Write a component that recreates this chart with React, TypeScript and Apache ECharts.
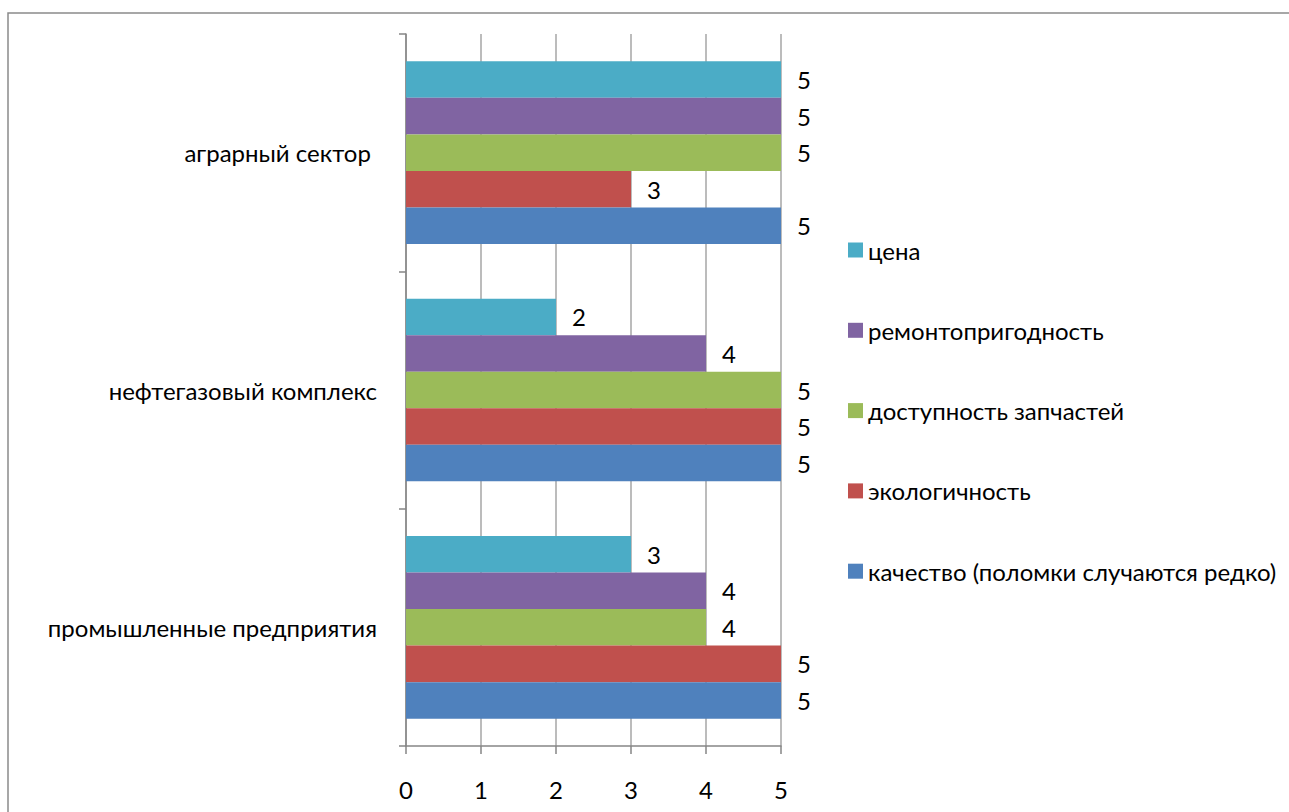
import React, { useEffect, useRef } from "react";
import * as echarts from "echarts";

const categories = ["промышленные предприятия", "нефтегазовый комплекс", "аграрный сектор "];
const seriesNames = [
  "цена",
  "ремонтопригодность",
  "доступность запчастей",
  "экологичность",
  "качество (поломки случаются редко)",
];
const price = [3, 2, 5];
const repair = [4, 4, 5];
const parts = [4, 5, 5];
const ecology = [5, 5, 3];
const quality = [5, 5, 5];
const xTicks = [0, 1, 2, 3, 4, 5];

const colors = ["#4BACC6", "#8064A2", "#9BBB59", "#C0504D", "#4F81BD"];
const FONT = "Lato";
const FS = 24;

export default function App() {
  const ref = useRef<HTMLDivElement>(null);
  useEffect(() => {
    if (!ref.current) return;
    const chart = echarts.init(ref.current, null, { renderer: "svg" });
    const values = [price, repair, parts, ecology, quality];
    chart.setOption({
      animation: false,
      backgroundColor: "#ffffff",
      textStyle: { fontFamily: FONT },
      graphic: [
        {
          type: "rect",
          shape: { x: 8, y: 13, width: 1400, height: 900 },
          style: { fill: "none", stroke: "#8a8a8a", lineWidth: 1.5 },
          silent: true,
        },
      ],
      grid: { left: 406, right: 508, top: 34, bottom: 66, containLabel: false },
      legend: {
        orient: "vertical",
        left: 848,
        top: 238,
        padding: 0,
        itemWidth: 15,
        itemHeight: 15,
        itemGap: 56.3,
        icon: "rect",
        data: seriesNames,
        textStyle: { fontFamily: FONT, fontSize: FS, color: "#000" },
      },
      xAxis: {
        type: "value",
        min: xTicks[0],
        max: xTicks[xTicks.length - 1],
        interval: 1,
        axisLine: { show: true, lineStyle: { color: "#868686", width: 1.5 } },
        axisTick: { show: true, length: 8, lineStyle: { color: "#868686", width: 1.5 } },
        splitLine: { show: true, lineStyle: { color: "#a6a6a6", width: 1.5 } },
        axisLabel: { color: "#000", fontSize: FS, margin: 31, fontFamily: FONT },
      },
      yAxis: {
        type: "category",
        data: categories,
        axisLine: { show: true, lineStyle: { color: "#868686", width: 1.5 } },
        axisTick: { show: true, length: 7, lineStyle: { color: "#868686", width: 1.5 } },
        axisLabel: { color: "#000", fontSize: FS, margin: 29, fontFamily: FONT },
      },
      series: seriesNames.map((name, i) => ({
        name,
        type: "bar",
        data: values[i],
        barGap: "0%",
        barCategoryGap: "23%",
        itemStyle: { color: colors[i] },
        label: {
          show: true,
          position: "right",
          distance: 16,
          color: "#000",
          fontSize: FS,
          fontFamily: FONT,
        },
      })),
    });
    return () => chart.dispose();
  }, []);
  return (
    <div
      ref={ref}
      style={{ position: "absolute", left: 0, top: 0, width: 1289, height: 812 }}
    />
  );
}
